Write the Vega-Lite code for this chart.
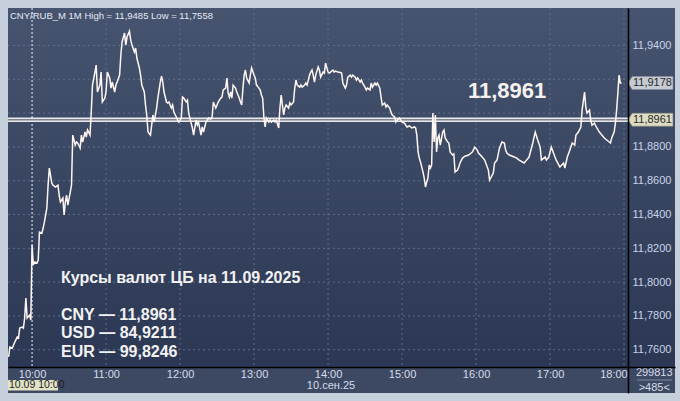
{
"$schema":"https://vega.github.io/schema/vega-lite/v6.json",
"width":667,"height":385,
"autosize":{"type":"none"},
"padding":{"left":8,"top":8,"right":5,"bottom":8},
"background":"#c6d0dc",
"config":{"view":{"fill":"#3d4963","stroke":null},"font":"Liberation Sans","text":{"font":"Liberation Sans"},"locale":{"number":{"decimal":",","thousands":" ","grouping":[3],"currency":["",""]}}},
"resolve":{"axis":{"x":"independent","y":"independent"}},
"layer":[
{"data":{"values":[{}]},
 "mark":{"type":"rect","fill":{"gradient":"linear","x1":0,"y1":0,"x2":0,"y2":1,"stops":[{"offset":0,"color":"#46546f"},{"offset":1,"color":"#2b3753"}]}},
 "encoding":{
  "x":{"datum":{"year":1900,"month":1,"date":1,"hours":9,"minutes":40,"seconds":30,"utc":true},"type":"temporal","scale":{"type":"utc","domain":[{"year":1900,"month":1,"date":1,"hours":9,"minutes":40,"seconds":30,"utc":true},{"year":1900,"month":1,"date":1,"hours":18,"minutes":41,"seconds":20,"utc":true}],"nice":false},"axis":null},
  "x2":{"datum":{"year":1900,"month":1,"date":1,"hours":18,"minutes":41,"seconds":20,"utc":true}},
  "y":{"datum":11.9622,"type":"quantitative","scale":{"domain":[11.7344,11.9622],"nice":false,"zero":false},"axis":null},
  "y2":{"datum":11.7498}}},
{"data":{"values":[{"v":11.76},{"v":11.78},{"v":11.80},{"v":11.82},{"v":11.84},{"v":11.86},{"v":11.88},{"v":11.90},{"v":11.92},{"v":11.94}]},
 "mark":{"type":"rule","color":"#5f6c8a","strokeDash":[2,3],"strokeWidth":1},
 "encoding":{
  "y":{"field":"v","type":"quantitative","axis":null},
  "x":{"datum":{"year":1900,"month":1,"date":1,"hours":9,"minutes":40,"seconds":30,"utc":true},"type":"temporal","axis":null},
  "x2":{"datum":{"year":1900,"month":1,"date":1,"hours":18,"minutes":3,"seconds":12,"utc":true}}}},
{"data":{"values":[{"t":"11:00"},{"t":"12:00"},{"t":"13:00"},{"t":"14:00"},{"t":"15:00"},{"t":"16:00"},{"t":"17:00"},{"t":"18:00"}],"format":{"parse":{"t":"utc:'%H:%M'"}}},
 "mark":{"type":"rule","color":"#5f6c8a","strokeDash":[2,3],"strokeWidth":1},
 "encoding":{
  "x":{"field":"t","type":"temporal","axis":null},
  "y":{"datum":11.9622,"type":"quantitative","axis":null},
  "y2":{"datum":11.7498}}},
{"data":{"values":[{"t":"10:00"}],"format":{"parse":{"t":"utc:'%H:%M'"}}},
 "mark":{"type":"rule","color":"#f2f2f2","strokeDash":[2,2],"strokeWidth":1},
 "encoding":{
  "x":{"field":"t","type":"temporal","axis":null},
  "y":{"datum":11.9622,"type":"quantitative","axis":null},
  "y2":{"datum":11.7498}}},
{"data":{"values":[{"v":11.8961}]},
 "mark":{"type":"rule","color":"#e9e9e9","strokeWidth":4.5},
 "encoding":{
  "y":{"field":"v","type":"quantitative","axis":null},
  "x":{"datum":{"year":1900,"month":1,"date":1,"hours":9,"minutes":40,"seconds":30,"utc":true},"type":"temporal","axis":null},
  "x2":{"datum":{"year":1900,"month":1,"date":1,"hours":18,"minutes":3,"seconds":12,"utc":true}}}},
{"data":{"values":[{"v":11.8961}]},
 "mark":{"type":"rule","color":"#7f8491","strokeWidth":1.4},
 "encoding":{
  "y":{"field":"v","type":"quantitative","axis":null},
  "x":{"datum":{"year":1900,"month":1,"date":1,"hours":9,"minutes":40,"seconds":30,"utc":true},"type":"temporal","axis":null},
  "x2":{"datum":{"year":1900,"month":1,"date":1,"hours":18,"minutes":3,"seconds":12,"utc":true}}}},
{"data":{"values":[
{"t":"09:41","v":11.7558},{"t":"09:42","v":11.7616},{"t":"09:44","v":11.761},{"t":"09:45","v":11.7628},{"t":"09:46","v":11.7645},{"t":"09:48","v":11.7675},{"t":"09:49","v":11.7669},{"t":"09:50","v":11.7728},{"t":"09:52","v":11.7734},{"t":"09:53","v":11.7728},{"t":"09:54","v":11.7787},{"t":"09:55","v":11.7906},{"t":"09:56","v":11.7787},{"t":"09:58","v":11.7805},{"t":"09:59","v":11.7776},
{"t":"10:00","v":11.8219},{"t":"10:01","v":11.8101},{"t":"10:02","v":11.8119},{"t":"10:04","v":11.8113},{"t":"10:05","v":11.8131},{"t":"10:06","v":11.8296},{"t":"10:08","v":11.829},{"t":"10:09","v":11.832},{"t":"10:10","v":11.8355},{"t":"10:12","v":11.8438},{"t":"10:13","v":11.8574},{"t":"10:14","v":11.8675},{"t":"10:16","v":11.8586},{"t":"10:17","v":11.8574},{"t":"10:19","v":11.8563},{"t":"10:21","v":11.8574},{"t":"10:22","v":11.8515},{"t":"10:23","v":11.8474},{"t":"10:25","v":11.8497},{"t":"10:26","v":11.8397},{"t":"10:27","v":11.8474},{"t":"10:28","v":11.8515},{"t":"10:29","v":11.8456},{"t":"10:31","v":11.8533},{"t":"10:32","v":11.8574},{"t":"10:33","v":11.887},{"t":"10:35","v":11.8811},{"t":"10:36","v":11.8829},{"t":"10:37","v":11.8823},{"t":"10:39","v":11.8793},{"t":"10:40","v":11.887},{"t":"10:41","v":11.8829},{"t":"10:43","v":11.8888},{"t":"10:44","v":11.8858},{"t":"10:45","v":11.89},{"t":"10:47","v":11.887},{"t":"10:48","v":11.9006},{"t":"10:49","v":11.9166},{"t":"10:51","v":11.9243},{"t":"10:52","v":11.9284},{"t":"10:53","v":11.9125},{"t":"10:55","v":11.9166},{"t":"10:56","v":11.9243},{"t":"10:57","v":11.9066},{"t":"10:59","v":11.9089},
{"t":"11:00","v":11.9125},{"t":"11:01","v":11.9243},{"t":"11:03","v":11.9208},{"t":"11:04","v":11.9148},{"t":"11:05","v":11.9184},{"t":"11:07","v":11.9125},{"t":"11:08","v":11.9166},{"t":"11:09","v":11.9184},{"t":"11:11","v":11.9225},{"t":"11:12","v":11.9344},{"t":"11:13","v":11.9421},{"t":"11:15","v":11.9474},{"t":"11:16","v":11.9403},{"t":"11:17","v":11.945},{"t":"11:19","v":11.9485},{"t":"11:20","v":11.9432},{"t":"11:21","v":11.9403},{"t":"11:23","v":11.9361},{"t":"11:24","v":11.9385},{"t":"11:25","v":11.9326},{"t":"11:27","v":11.9267},{"t":"11:28","v":11.9225},{"t":"11:29","v":11.9166},{"t":"11:31","v":11.9125},{"t":"11:32","v":11.9048},{"t":"11:33","v":11.8989},{"t":"11:34","v":11.8888},{"t":"11:36","v":11.887},{"t":"11:37","v":11.8929},{"t":"11:38","v":11.8989},{"t":"11:39","v":11.8947},{"t":"11:41","v":11.903},{"t":"11:42","v":11.9089},{"t":"11:44","v":11.9184},{"t":"11:45","v":11.9219},{"t":"11:46","v":11.9184},{"t":"11:47","v":11.9125},{"t":"11:49","v":11.9066},{"t":"11:50","v":11.906},{"t":"11:51","v":11.9066},{"t":"11:53","v":11.903},{"t":"11:54","v":11.9048},{"t":"11:55","v":11.9006},{"t":"11:57","v":11.8977},{"t":"11:58","v":11.8959},{"t":"11:59","v":11.8947},
{"t":"12:01","v":11.8971},{"t":"12:02","v":11.9095},{"t":"12:03","v":11.9089},{"t":"12:05","v":11.9066},{"t":"12:06","v":11.9077},{"t":"12:07","v":11.9},{"t":"12:09","v":11.8941},{"t":"12:10","v":11.8912},{"t":"12:11","v":11.887},{"t":"12:13","v":11.8959},{"t":"12:14","v":11.8929},{"t":"12:15","v":11.8947},{"t":"12:17","v":11.887},{"t":"12:18","v":11.8918},{"t":"12:19","v":11.8888},{"t":"12:21","v":11.8947},{"t":"12:22","v":11.8959},{"t":"12:23","v":11.8971},{"t":"12:25","v":11.8965},{"t":"12:26","v":11.8977},{"t":"12:27","v":11.9066},{"t":"12:29","v":11.903},{"t":"12:30","v":11.9048},{"t":"12:31","v":11.9066},{"t":"12:33","v":11.9089},{"t":"12:34","v":11.9095},{"t":"12:35","v":11.9137},{"t":"12:37","v":11.9148},{"t":"12:38","v":11.9208},{"t":"12:39","v":11.9119},{"t":"12:40","v":11.9095},{"t":"12:41","v":11.9125},{"t":"12:42","v":11.9089},{"t":"12:43","v":11.9166},{"t":"12:45","v":11.9148},{"t":"12:46","v":11.9125},{"t":"12:48","v":11.9089},{"t":"12:49","v":11.9066},{"t":"12:50","v":11.9048},{"t":"12:51","v":11.9148},{"t":"12:52","v":11.9225},{"t":"12:53","v":11.9255},{"t":"12:54","v":11.9208},{"t":"12:56","v":11.9178},{"t":"12:57","v":11.9225},{"t":"12:58","v":11.9267},
{"t":"13:00","v":11.9225},{"t":"13:01","v":11.9208},{"t":"13:02","v":11.9166},{"t":"13:04","v":11.9148},{"t":"13:05","v":11.9137},{"t":"13:06","v":11.9107},{"t":"13:07","v":11.9089},{"t":"13:08","v":11.8971},{"t":"13:09","v":11.8918},{"t":"13:10","v":11.8971},{"t":"13:12","v":11.8947},{"t":"13:13","v":11.8959},{"t":"13:14","v":11.8947},{"t":"13:16","v":11.8959},{"t":"13:17","v":11.8947},{"t":"13:18","v":11.8959},{"t":"13:20","v":11.8912},{"t":"13:21","v":11.903},{"t":"13:22","v":11.9107},{"t":"13:24","v":11.8989},{"t":"13:25","v":11.903},{"t":"13:26","v":11.9048},{"t":"13:28","v":11.903},{"t":"13:29","v":11.906},{"t":"13:30","v":11.9048},{"t":"13:32","v":11.9066},{"t":"13:33","v":11.9148},{"t":"13:34","v":11.9196},{"t":"13:35","v":11.9166},{"t":"13:37","v":11.9154},{"t":"13:38","v":11.9166},{"t":"13:39","v":11.9154},{"t":"13:41","v":11.9166},{"t":"13:42","v":11.9178},{"t":"13:43","v":11.9166},{"t":"13:45","v":11.9225},{"t":"13:46","v":11.9243},{"t":"13:47","v":11.9255},{"t":"13:48","v":11.9225},{"t":"13:49","v":11.9184},{"t":"13:50","v":11.9225},{"t":"13:52","v":11.9273},{"t":"13:53","v":11.9255},{"t":"13:54","v":11.9213},{"t":"13:56","v":11.9243},{"t":"13:57","v":11.9237},{"t":"13:58","v":11.9296},
{"t":"14:00","v":11.9243},{"t":"14:01","v":11.9237},{"t":"14:02","v":11.9243},{"t":"14:04","v":11.9255},{"t":"14:05","v":11.9243},{"t":"14:06","v":11.9249},{"t":"14:08","v":11.9243},{"t":"14:10","v":11.924},{"t":"14:11","v":11.9237},{"t":"14:12","v":11.9178},{"t":"14:14","v":11.9148},{"t":"14:15","v":11.9166},{"t":"14:16","v":11.9213},{"t":"14:18","v":11.9225},{"t":"14:19","v":11.9213},{"t":"14:20","v":11.9225},{"t":"14:22","v":11.9213},{"t":"14:23","v":11.9196},{"t":"14:24","v":11.9208},{"t":"14:26","v":11.9184},{"t":"14:27","v":11.9196},{"t":"14:28","v":11.9178},{"t":"14:30","v":11.9154},{"t":"14:31","v":11.9137},{"t":"14:32","v":11.9148},{"t":"14:34","v":11.9137},{"t":"14:35","v":11.9178},{"t":"14:36","v":11.9154},{"t":"14:38","v":11.9178},{"t":"14:39","v":11.9166},{"t":"14:40","v":11.9178},{"t":"14:42","v":11.9148},{"t":"14:43","v":11.9095},{"t":"14:44","v":11.9048},{"t":"14:46","v":11.906},{"t":"14:47","v":11.9036},{"t":"14:48","v":11.9048},{"t":"14:50","v":11.903},{"t":"14:51","v":11.9006},{"t":"14:52","v":11.8989},{"t":"14:54","v":11.8977},{"t":"14:55","v":11.8947},{"t":"14:56","v":11.8959},{"t":"14:58","v":11.8971},{"t":"14:59","v":11.8959},
{"t":"15:00","v":11.8947},{"t":"15:02","v":11.8941},{"t":"15:03","v":11.8929},{"t":"15:04","v":11.8918},{"t":"15:06","v":11.8924},{"t":"15:07","v":11.8918},{"t":"15:08","v":11.8912},{"t":"15:10","v":11.8918},{"t":"15:11","v":11.8912},{"t":"15:12","v":11.887},{"t":"15:13","v":11.877},{"t":"15:14","v":11.8734},{"t":"15:15","v":11.871},{"t":"15:17","v":11.8651},{"t":"15:18","v":11.8616},{"t":"15:19","v":11.8563},{"t":"15:20","v":11.8592},{"t":"15:21","v":11.8616},{"t":"15:22","v":11.8693},{"t":"15:23","v":11.8675},{"t":"15:24","v":11.8693},{"t":"15:25","v":11.9},{"t":"15:26","v":11.8829},{"t":"15:27","v":11.8989},{"t":"15:28","v":11.877},{"t":"15:29","v":11.8853},{"t":"15:30","v":11.887},{"t":"15:31","v":11.8811},{"t":"15:33","v":11.8888},{"t":"15:34","v":11.89},{"t":"15:35","v":11.8853},{"t":"15:37","v":11.8829},{"t":"15:38","v":11.8823},{"t":"15:39","v":11.877},{"t":"15:41","v":11.8752},{"t":"15:42","v":11.8758},{"t":"15:43","v":11.8651},{"t":"15:45","v":11.8663},{"t":"15:46","v":11.8681},{"t":"15:47","v":11.8705},{"t":"15:49","v":11.8734},{"t":"15:50","v":11.874},{"t":"15:51","v":11.8745},{"t":"15:54","v":11.8752},{"t":"15:57","v":11.877},{"t":"15:59","v":11.8799},
{"t":"16:01","v":11.8781},{"t":"16:02","v":11.8764},{"t":"16:05","v":11.874},{"t":"16:07","v":11.8722},{"t":"16:10","v":11.8663},{"t":"16:11","v":11.8604},{"t":"16:14","v":11.8645},{"t":"16:15","v":11.8705},{"t":"16:17","v":11.8722},{"t":"16:19","v":11.8793},{"t":"16:21","v":11.8829},{"t":"16:23","v":11.8823},{"t":"16:24","v":11.8781},{"t":"16:25","v":11.8764},{"t":"16:27","v":11.8752},{"t":"16:31","v":11.874},{"t":"16:33","v":11.8734},{"t":"16:35","v":11.8722},{"t":"16:39","v":11.8705},{"t":"16:41","v":11.8722},{"t":"16:43","v":11.874},{"t":"16:46","v":11.8823},{"t":"16:48","v":11.8888},{"t":"16:50","v":11.8841},{"t":"16:52","v":11.8799},{"t":"16:53","v":11.8722},{"t":"16:56","v":11.874},{"t":"16:57","v":11.8722},{"t":"16:59","v":11.874},
{"t":"17:01","v":11.8799},{"t":"17:04","v":11.874},{"t":"17:05","v":11.8722},{"t":"17:08","v":11.8681},{"t":"17:11","v":11.8705},{"t":"17:12","v":11.8675},{"t":"17:14","v":11.874},{"t":"17:16","v":11.8781},{"t":"17:18","v":11.8823},{"t":"17:20","v":11.8811},{"t":"17:21","v":11.887},{"t":"17:23","v":11.8888},{"t":"17:25","v":11.8918},{"t":"17:26","v":11.9018},{"t":"17:28","v":11.9125},{"t":"17:29","v":11.9036},{"t":"17:30","v":11.9},{"t":"17:32","v":11.9018},{"t":"17:33","v":11.8959},{"t":"17:34","v":11.8929},{"t":"17:36","v":11.8941},{"t":"17:38","v":11.8912},{"t":"17:40","v":11.8888},{"t":"17:42","v":11.887},{"t":"17:44","v":11.8853},{"t":"17:46","v":11.8841},{"t":"17:49","v":11.8823},{"t":"17:50","v":11.8853},{"t":"17:52","v":11.8888},{"t":"17:53","v":11.8941},{"t":"17:54","v":11.9018},{"t":"17:55","v":11.9119},{"t":"17:56","v":11.9225},{"t":"17:57","v":11.9178},{"t":"17:58","v":11.9178}
],"format":{"parse":{"t":"utc:'%H:%M'"}}},
 "mark":{"type":"line","color":"#fff6f2","strokeWidth":1.5,"interpolate":"linear"},
 "encoding":{
  "x":{"field":"t","type":"temporal",
   "axis":{"orient":"bottom","offset":-26,"format":"%H:%M","values":[{"year":1900,"month":1,"date":1,"hours":10,"utc":true},{"year":1900,"month":1,"date":1,"hours":11,"utc":true},{"year":1900,"month":1,"date":1,"hours":12,"utc":true},{"year":1900,"month":1,"date":1,"hours":13,"utc":true},{"year":1900,"month":1,"date":1,"hours":14,"utc":true},{"year":1900,"month":1,"date":1,"hours":15,"utc":true},{"year":1900,"month":1,"date":1,"hours":16,"utc":true},{"year":1900,"month":1,"date":1,"hours":17,"utc":true}],"grid":false,"ticks":false,"domainColor":"#000000","domainWidth":1.5,"labelColor":"#d6dcea","labelFontSize":11,"labelPadding":1,"title":null,"zindex":1}},
  "y":{"field":"v","type":"quantitative",
   "axis":{"orient":"right","offset":-47,"values":[11.76,11.78,11.8,11.82,11.84,11.86,11.88,11.94],"format":".4f","grid":false,"ticks":false,"domainColor":"#000000","domainWidth":1.5,"labelColor":"#c9d3ea","labelFontSize":11,"labelPadding":4,"title":null,"zindex":1}}}},
{"data":{"values":[{}]},
 "mark":{"type":"text","text":"18:00","align":"right","baseline":"middle","fontSize":11,"color":"#d6dcea"},
 "encoding":{
  "x":{"datum":{"year":1900,"month":1,"date":1,"hours":18,"minutes":3,"seconds":0,"utc":true},"type":"temporal","axis":null},
  "y":{"datum":11.7451,"type":"quantitative","axis":null}}},
{"data":{"values":[{}]},
 "mark":{"type":"text","text":"11,8961","align":"left","baseline":"alphabetic","fontSize":22,"fontWeight":"bold","color":"#f6f1ee"},
 "encoding":{
  "x":{"datum":{"year":1900,"month":1,"date":1,"hours":15,"minutes":53,"seconds":28,"utc":true},"type":"temporal","axis":null},
  "y":{"datum":11.9089,"type":"quantitative","axis":null}}},
{"data":{"values":[{}]},
 "mark":{"type":"text","text":"Курсы валют ЦБ на 11.09.2025","align":"left","baseline":"alphabetic","fontSize":16,"fontWeight":"bold","color":"#f2f2f2"},
 "encoding":{
  "x":{"datum":{"year":1900,"month":1,"date":1,"hours":10,"minutes":23,"seconds":28,"utc":true},"type":"temporal","axis":null},
  "y":{"datum":11.7995,"type":"quantitative","axis":null}}},
{"data":{"values":[{}]},
 "mark":{"type":"text","text":["CNY — 11,8961","USD — 84,9211","EUR — 99,8246"],"lineHeight":18.5,"align":"left","baseline":"alphabetic","fontSize":16,"fontWeight":"bold","color":"#f2f2f2"},
 "encoding":{
  "x":{"datum":{"year":1900,"month":1,"date":1,"hours":10,"minutes":23,"seconds":28,"utc":true},"type":"temporal","axis":null},
  "y":{"datum":11.7776,"type":"quantitative","axis":null}}},
{"data":{"values":[{}]},
 "mark":{"type":"text","text":"CNY/RUB_M 1M High = 11,9485 Low = 11,7558","align":"left","baseline":"alphabetic","dx":2,"dy":10.5,"fontSize":9.5,"color":"#e4eaf4"},
 "encoding":{
  "x":{"datum":{"year":1900,"month":1,"date":1,"hours":9,"minutes":40,"seconds":30,"utc":true},"type":"temporal","axis":null},
  "y":{"datum":11.9622,"type":"quantitative","axis":null}}},
{"data":{"values":[{"v":11.9178}]},
 "mark":{"type":"point","shape":"M0,0L0.33,-0.5L3.46,-0.5L3.46,0.5L0.33,0.5Z","size":676,"filled":true,"opacity":1,"fill":"#c6cad2","stroke":"#8a909c","strokeWidth":0.6},
 "encoding":{
  "x":{"datum":{"year":1900,"month":1,"date":1,"hours":18,"minutes":3,"seconds":12,"utc":true},"type":"temporal","axis":null},
  "y":{"field":"v","type":"quantitative","axis":null}}},
{"data":{"values":[{"v":11.9178}]},
 "mark":{"type":"text","text":"11,9178","align":"left","baseline":"middle","dx":5,"fontSize":11,"color":"#2a2a2a"},
 "encoding":{
  "x":{"datum":{"year":1900,"month":1,"date":1,"hours":18,"minutes":3,"seconds":12,"utc":true},"type":"temporal","axis":null},
  "y":{"field":"v","type":"quantitative","axis":null}}},
{"data":{"values":[{"v":11.8961}]},
 "mark":{"type":"point","shape":"M0,0L0.33,-0.5L3.46,-0.5L3.46,0.5L0.33,0.5Z","size":676,"filled":true,"opacity":1,"fill":"#dcdcc3","stroke":"#8a8c80","strokeWidth":0.6},
 "encoding":{
  "x":{"datum":{"year":1900,"month":1,"date":1,"hours":18,"minutes":3,"seconds":12,"utc":true},"type":"temporal","axis":null},
  "y":{"field":"v","type":"quantitative","axis":null}}},
{"data":{"values":[{"v":11.8961}]},
 "mark":{"type":"text","text":"11,8961","align":"left","baseline":"middle","dx":5,"fontSize":11,"color":"#2a2a2a"},
 "encoding":{
  "x":{"datum":{"year":1900,"month":1,"date":1,"hours":18,"minutes":3,"seconds":12,"utc":true},"type":"temporal","axis":null},
  "y":{"field":"v","type":"quantitative","axis":null}}},
{"data":{"values":[{}]},
 "mark":{"type":"rect","color":"#e2e2c6"},
 "encoding":{
  "x":{"datum":{"year":1900,"month":1,"date":1,"hours":9,"minutes":40,"seconds":30,"utc":true},"type":"temporal","axis":null},
  "x2":{"datum":{"year":1900,"month":1,"date":1,"hours":10,"minutes":21,"seconds":2,"utc":true}},
  "y":{"datum":11.7421,"type":"quantitative","axis":null},
  "y2":{"datum":11.7359}}},
{"data":{"values":[{}]},
 "mark":{"type":"text","text":"10.09 10:00","align":"left","baseline":"middle","dx":1,"fontSize":10.5,"color":"#1e1e1e"},
 "encoding":{
  "x":{"datum":{"year":1900,"month":1,"date":1,"hours":9,"minutes":40,"seconds":30,"utc":true},"type":"temporal","axis":null},
  "y":{"datum":11.7390,"type":"quantitative","axis":null}}},
{"data":{"values":[{}]},
 "mark":{"type":"text","text":"10.сен.25","align":"center","baseline":"middle","fontSize":11,"color":"#d6dcea"},
 "encoding":{
  "x":{"datum":{"year":1900,"month":1,"date":1,"hours":14,"minutes":2,"seconds":24,"utc":true},"type":"temporal","axis":null},
  "y":{"datum":11.7386,"type":"quantitative","axis":null}}},
{"data":{"values":[{}]},
 "mark":{"type":"text","text":"299813","align":"center","baseline":"middle","fontSize":11,"color":"#d6dcea"},
 "encoding":{
  "x":{"datum":{"year":1900,"month":1,"date":1,"hours":18,"minutes":24,"seconds":30,"utc":true},"type":"temporal","axis":null},
  "y":{"datum":11.7462,"type":"quantitative","axis":null}}},
{"data":{"values":[{}]},
 "mark":{"type":"text","text":">485<","align":"center","baseline":"middle","fontSize":11,"color":"#d6dcea"},
 "encoding":{
  "x":{"datum":{"year":1900,"month":1,"date":1,"hours":18,"minutes":24,"seconds":30,"utc":true},"type":"temporal","axis":null},
  "y":{"datum":11.7374,"type":"quantitative","axis":null}}},
{"data":{"values":[{}]},
 "mark":{"type":"rule","color":"#7d8aa3","strokeWidth":1},
 "encoding":{
  "x":{"datum":{"year":1900,"month":1,"date":1,"hours":18,"minutes":10,"seconds":30,"utc":true},"type":"temporal","axis":null},
  "x2":{"datum":{"year":1900,"month":1,"date":1,"hours":18,"minutes":38,"seconds":54,"utc":true}},
  "y":{"datum":11.7421,"type":"quantitative","axis":null}}}
]
}
